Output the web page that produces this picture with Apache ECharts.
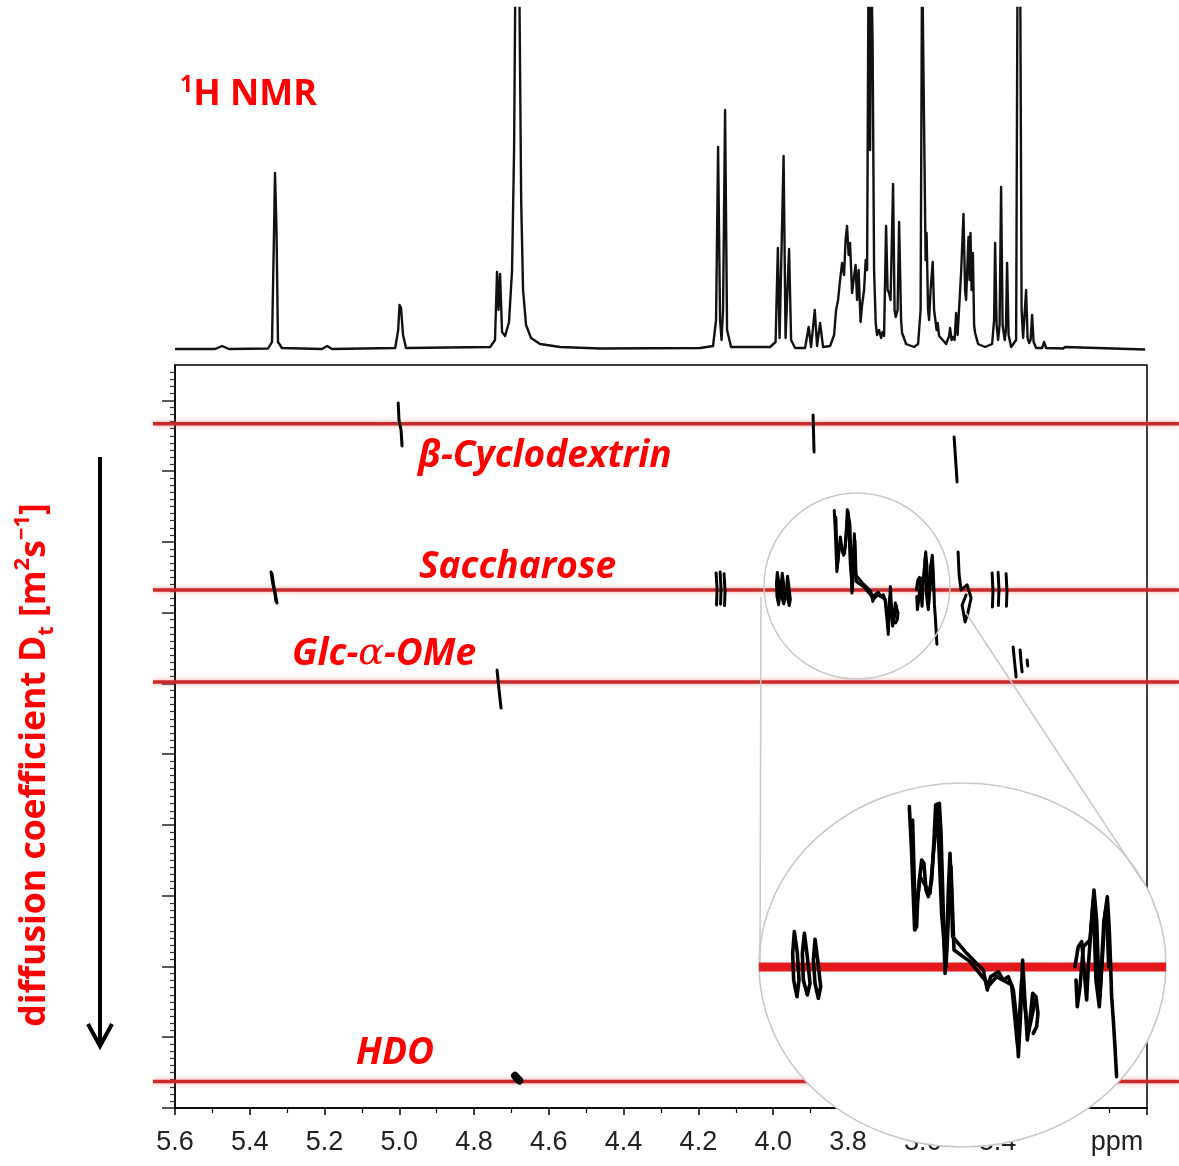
<!DOCTYPE html>
<html><head><meta charset="utf-8">
<script src="https://cdn.jsdelivr.net/npm/echarts@6/dist/echarts.min.js"></script>
<style>html,body{margin:0;padding:0;background:#fff}#c{width:1179px;height:1166px}</style>
</head><body><div id="c"></div>
<script>
// ---------- DATA ----------
// 1D 1H NMR spectrum: [ppm, intensity]
const nmrSpectrum = [
 [5.600,1],[5.493,1],[5.474,4],[5.456,1],[5.351,1.5],[5.3405,8],[5.335,120],[5.3325,177],[5.3285,120],[5.3245,8],[5.314,2],
 [5.207,1],[5.193,4],[5.180,1],[5.011,2],[5.003,20],[4.9994,45],[4.9954,42],[4.990,15],[4.982,2],
 [4.757,3],[4.744,10],[4.7386,78],[4.7346,40],[4.7305,76],[4.7252,18],[4.717,14],[4.7065,28],[4.6984,80],[4.693,200],
 [4.689,400],[4.6797,400],[4.674,150],[4.669,60],[4.661,25],[4.6476,12],[4.6235,6],[4.570,3],[4.463,1.5],
 [4.1955,2],[4.1607,4],[4.1527,30],[4.1473,203],[4.142,30],[4.138,10],[4.134,40],[4.1286,240],[4.1233,20],[4.1126,3],
 [4.0082,3],[3.9935,8],[3.9874,102],[3.9828,12],[3.9775,12],[3.9721,194],[3.9668,12],[3.9628,12],[3.9574,101],[3.952,10],
 [3.9413,2],[3.9146,2],[3.905,23],[3.8986,3],[3.8887,40],[3.8825,4],[3.8745,27],[3.8665,3],[3.8477,4],[3.837,15],
 [3.8317,40],[3.8263,50],[3.821,70],[3.8156,87],[3.8103,75],[3.8063,110],[3.8023,124],[3.7982,95],[3.7942,107],[3.7889,57],
 [3.7848,70],[3.7795,85],[3.7755,50],[3.7715,80],[3.7661,28],[3.7621,45],[3.7568,60],[3.7525,90],[3.7487,80],[3.7447,400],
 [3.7407,200],[3.738,400],[3.734,307],[3.730,80],[3.7257,27],[3.722,15],[3.7166,20],[3.7113,12],[3.7073,18],[3.7033,14],
 [3.6979,124],[3.6939,60],[3.6899,57],[3.6859,50],[3.6792,166],[3.6752,40],[3.672,33],[3.6671,40],[3.6631,128],[3.6578,30],
 [3.6551,17],[3.6444,6],[3.623,3],[3.6123,6],[3.6056,40],[3.6016,400],[3.5963,400],[3.5922,90],[3.5896,117],[3.5856,40],
 [3.5829,30],[3.5789,60],[3.5732,88],[3.5695,40],[3.5668,40],[3.5628,20],[3.5599,27],[3.5561,14],[3.5465,10],[3.5374,6],
 [3.5294,14],[3.5267,22],[3.5227,10],[3.5187,13],[3.5147,10],[3.5106,37],[3.5066,15],[3.5026,17],[3.4973,77],[3.4909,136],
 [3.4866,60],[3.4839,50],[3.4775,113],[3.4745,70],[3.4721,117],[3.4692,60],[3.4657,97],[3.4625,25],[3.4598,17],[3.4518,6],
 [3.4331,3],[3.4143,6],[3.409,30],[3.4063,107],[3.4023,25],[3.3983,10],[3.3943,25],[3.3903,163],[3.3862,25],[3.3806,10],
 [3.3774,20],[3.3742,87],[3.3702,15],[3.3635,3],[3.3501,10],[3.3461,400],[3.3394,400],[3.3354,40],[3.3314,12],[3.3274,14],
 [3.3234,60],[3.3194,12],[3.3154,7],[3.3113,10],[3.3073,35],[3.3033,8],[3.2966,2],[3.2806,2],[3.2752,8],[3.2699,2],
 [3.2244,1.5],[3.219,3],[3.2137,1.5],[3.005,0.5]
];

// compounds and their diffusion levels (arbitrary D-axis units, D increases downward)
const compounds = ['β-Cyclodextrin', 'Saccharose', 'Glc-α-OMe', 'HDO'];
const diffusionLevels = [9.67, 7.32, 6.02, 0.375];

// DOSY cross peaks as contour traces [ppm, D]
const betaCDPeaks = [
 [[5.003,9.963],[5.0008,9.723],[4.9954,9.582],[4.9927,9.356]],
 [[3.8932,9.794],[3.8906,9.271]],
 [[3.516,9.483],[3.508,8.847]]
];
const saccharosePeaks = [
 [[5.3432,7.575],[5.3378,7.392],[5.3325,7.292],[5.3271,7.137]],
 [[5.3405,7.55],[5.3351,7.35],[5.3298,7.16]],
 [[4.1527,7.56],[4.1500,7.34],[4.1514,7.11]],
 [[4.1420,7.575],[4.1393,7.33],[4.1407,7.12]],
 [[4.1313,7.55],[4.1286,7.30],[4.1300,7.10]],
 [[3.4143,7.56],[3.4120,7.30],[3.4135,7.08]],
 [[3.3983,7.57],[3.3960,7.33],[3.3975,7.10]],
 [[3.3769,7.55],[3.3746,7.30],[3.3760,7.09]],
 [[3.5053,7.857],[3.5026,7.532],[3.4973,7.321],[3.4812,7.392],[3.4705,7.208],[3.4786,7.01],[3.4866,6.868],[3.4946,7.109],[3.4839,7.25]]
];
// saccharose multiplet region 4.0–3.55 ppm (also shown magnified)
const saccharoseMultiplet = [
 [[3.9889,7.5677],[3.9849,7.4162],[3.9827,7.2296],[3.9854,7.113],[3.9898,7.2296],[3.9911,7.4162],[3.9889,7.5677]],
 [[3.9756,7.5561],[3.9717,7.3929],[3.9681,7.2063],[3.9717,7.1247],[3.977,7.2296],[3.9783,7.4162],[3.9756,7.5561]],
 [[3.9615,7.5141],[3.958,7.3695],[3.954,7.183],[3.9571,7.1013],[3.9615,7.2063],[3.9637,7.3695],[3.9615,7.5141]],
 [[3.8366,8.4422],[3.8339,8.1624],[3.8313,7.8126],[3.8295,7.5794],[3.8269,7.6027],[3.8255,7.7893],[3.8233,7.9292],[3.8202,8.0691],
  [3.8172,8.0458],[3.8145,7.8592],[3.8114,7.8126],[3.807,7.9292],[3.8039,8.209],[3.8017,8.4539],[3.7968,8.4656],[3.7946,8.2557],
  [3.7924,7.8592],[3.7907,7.5094],[3.7893,7.2762],[3.7871,7.4628],[3.7849,7.8592],[3.7827,8.1158],[3.7809,7.8592],[3.7792,7.5328],
  [3.7717,7.4861],[3.7606,7.4162],[3.7496,7.3579],[3.7386,7.2996],[3.7333,7.1596],[3.7289,7.2529],[3.7187,7.2879],[3.7121,7.2296],
  [3.7055,7.2529],[3.6988,7.1596],[3.6944,6.9498],[3.6922,6.6932],[3.6891,6.9964],[3.6865,7.3695],[3.6838,7.113],[3.6803,6.8098],
  [3.6768,6.9498],[3.6732,7.1363],[3.6688,7.113],[3.6662,6.9964],[3.6679,6.9031],[3.6724,6.8565]],
 [[3.8322,8.349],[3.8286,7.6494],[3.8225,7.9525],[3.8092,7.8359],[3.7995,8.4306],[3.7938,7.696],[3.788,7.3229],[3.7814,8.0225],
  [3.7774,7.4395],[3.7562,7.3579],[3.7364,7.2296],[3.7306,7.1946],[3.7209,7.2529],[3.701,7.1946],[3.6931,6.7632],[3.6878,7.2296],
  [3.679,6.8565],[3.6697,7.0897]],
 [[3.6172,7.3229],[3.6128,7.4628],[3.6083,7.4978],[3.6061,7.3695],[3.6039,7.2296],[3.6017,7.0897],[3.5995,7.3229],[3.5951,7.6494],
  [3.592,7.8592],[3.5885,7.6494],[3.5863,7.3229],[3.5841,7.113],[3.5805,7.4162],[3.5774,7.696],[3.5743,7.8126],[3.5717,7.5794],
  [3.5699,7.3229],[3.5686,7.113],[3.5664,6.9498],[3.5642,6.7632],[3.562,6.5533]],
 [[3.6158,7.2296],[3.6141,7.043],[3.6105,7.183],[3.6061,7.4628],[3.5973,7.5094],[3.5929,7.7893],[3.5894,7.2296],[3.5849,7.043],
  [3.5788,7.6494],[3.5752,7.7426],[3.5726,7.3229]]
];
const glcPeaks = [
 [[4.7386,6.19],[4.7332,5.907],[4.7279,5.652]],
 [[3.3581,6.515],[3.3541,6.30],[3.3501,6.091]],
 [[3.3394,6.473],[3.3368,6.30],[3.3341,6.162]],
 [[3.3207,6.331],[3.3190,6.247]]
];
const hdoPeaks = [
 [[4.6905,0.455],[4.6851,0.42],[4.6790,0.39]]
];

// axis ranges
const ppmRange = [3.0, 5.6];
const dRange = [0, 10.5];
const dMajorTicks = [0,1,2,3,4,5,6,7,8,9,10];
const insetPpmRange = [3.4966, 4.0357];
const insetDRange = [6.0612, 8.6078];

// ---------- CHART ----------
const chart = echarts.init(document.getElementById('c'), null, {renderer:'canvas'});
const RED = '#ff0000';
const LINE_RED = '#c92a2a';
const LABEL_FONT = '"Open Sans", "DejaVu Sans", sans-serif';
const SHADOW = {shadowColor:'rgba(0,0,0,0.3)', shadowBlur:3, shadowOffsetX:2, shadowOffsetY:2};

const series = [];
series.push({type:'line', xAxisIndex:0, yAxisIndex:0, data:nmrSpectrum, symbol:'none',
  lineStyle:{color:'#111', width:2.4, join:'round'}, clip:true, z:2, silent:true});
diffusionLevels.forEach((d,i) => series.push({type:'line', name:compounds[i], xAxisIndex:2, yAxisIndex:2,
  data:[[0,d],[1,d]], symbol:'none', silent:true, z:2,
  lineStyle:{color:LINE_RED, width:3.4, shadowBlur:5, shadowColor:'rgba(235,90,90,0.6)'}}));
[...betaCDPeaks, ...saccharosePeaks, ...saccharoseMultiplet, ...glcPeaks].forEach(tr => series.push({
  type:'line', xAxisIndex:1, yAxisIndex:1, data:tr, symbol:'none', silent:true, z:3,
  lineStyle:{color:'#000', width:3, cap:'round', join:'round'}}));
hdoPeaks.forEach(tr => series.push({type:'line', xAxisIndex:1, yAxisIndex:1, data:tr, symbol:'none', silent:true, z:3,
  lineStyle:{color:'#000', width:8, cap:'round', join:'round'}}));
// magnified inset
series.push({type:'line', xAxisIndex:3, yAxisIndex:3, symbol:'none', silent:true, z:20,
  data:[[insetPpmRange[1], diffusionLevels[1]],[insetPpmRange[0], diffusionLevels[1]]],
  lineStyle:{color:'#e3191c', width:9}});
saccharoseMultiplet.forEach(tr => series.push({type:'line', xAxisIndex:3, yAxisIndex:3, data:tr, symbol:'none', silent:true, z:21,
  lineStyle:{color:'#000', width:3.6, cap:'round', join:'round'}}));

const option = {
  animation:false,
  backgroundColor:'#fff',
  grid:[
    {left:175, width:972, top:8, height:342},
    {left:175, width:972, top:365, height:743, show:true, borderColor:'#000', borderWidth:1.5, backgroundColor:'transparent'},
    {left:153, right:0, top:365, height:743},
    {left:759, top:783, width:407, height:364}
  ],
  xAxis:[
    {gridIndex:0, type:'value', min:ppmRange[0], max:ppmRange[1], inverse:true, show:false},
    {gridIndex:1, type:'value', min:ppmRange[0], max:ppmRange[1], interval:0.2, inverse:true,
     axisLine:{show:true, onZero:false, lineStyle:{color:'#000', width:1.5}},
     axisTick:{show:true, inside:false, length:7, lineStyle:{color:'#000', width:1.5}},
     minorTick:{show:true, splitNumber:2, length:5, lineStyle:{color:'#000', width:1.2}},
     splitLine:{show:false},
     axisLabel:{show:true, showMinLabel:true, showMaxLabel:true, margin:21, fontFamily:'"Liberation Sans", Arial, sans-serif', fontSize:27, color:'#222',
       formatter: v => v < 3.3 ? '' : v.toFixed(1)}},
    {gridIndex:2, type:'value', min:0, max:1, show:false},
    {gridIndex:3, type:'value', min:insetPpmRange[0], max:insetPpmRange[1], inverse:true, show:false}
  ],
  yAxis:[
    {gridIndex:0, type:'value', min:0, max:342, show:false},
    {gridIndex:1, type:'value', min:dRange[0], max:dRange[1], interval:1,
     axisLine:{show:true, onZero:false, lineStyle:{color:'#000', width:1.5}},
     axisTick:{show:true, inside:false, length:13, customValues:dMajorTicks, lineStyle:{color:'#222', width:1.5}},
     minorTick:{show:true, splitNumber:10, length:5, lineStyle:{color:'#333', width:1.2}},
     axisLabel:{show:false}, splitLine:{show:false}},
    {gridIndex:2, type:'value', min:dRange[0], max:dRange[1], show:false},
    {gridIndex:3, type:'value', min:insetDRange[0], max:insetDRange[1], show:false}
  ],
  series: series,
  graphic:[
    {type:'circle', x:962.5, y:965, scaleY:182/203.5, z:10, silent:true,
     shape:{cx:0, cy:0, r:203.5}, style:{fill:'#fff', stroke:'#c8c8c8', lineWidth:1.6, strokeNoScale:true}},
    {type:'circle', z:10, silent:true, shape:{cx:857, cy:586, r:93}, style:{fill:'none', stroke:'#c8c8c8', lineWidth:1.5}},
    {type:'line', z:11, silent:true, shape:{x1:761, y1:597, x2:760, y2:962}, style:{stroke:'#c8c8c8', lineWidth:1.5}},
    {type:'line', z:11, silent:true, shape:{x1:966, y1:613, x2:1143, y2:882}, style:{stroke:'#c8c8c8', lineWidth:1.5}},
    {type:'text', z:30, x:1117, y:1143, silent:true,
     style:{text:'ppm', font:'27px "Liberation Sans", Arial, sans-serif', fill:'#222', align:'center', verticalAlign:'middle'}},
    {type:'text', z:30, x:180, y:95, silent:true,
     style:Object.assign({text:'{s|1}{n|H NMR}', align:'left', verticalAlign:'middle', fill:RED,
       rich:{s:{fontFamily:LABEL_FONT, fontWeight:'bold', fontSize:23, fill:RED, verticalAlign:'top'},
             n:{fontFamily:LABEL_FONT, fontWeight:'bold', fontSize:36, fill:RED, lineHeight:42}}}, SHADOW)},
    {type:'text', z:30, x:418, y:456, silent:true,
     style:Object.assign({text:compounds[0], font:'italic bold 37px ' + LABEL_FONT, fill:RED, align:'left', verticalAlign:'middle'}, SHADOW)},
    {type:'text', z:30, x:419, y:567, silent:true,
     style:Object.assign({text:compounds[1], font:'italic bold 37px ' + LABEL_FONT, fill:RED, align:'left', verticalAlign:'middle'}, SHADOW)},
    {type:'text', z:30, x:292, y:654, silent:true,
     style:Object.assign({text:'{n|Glc-}{g|α}{n|-OMe}', align:'left', verticalAlign:'middle', fill:RED,
       rich:{n:{fontFamily:LABEL_FONT, fontWeight:'bold', fontStyle:'italic', fontSize:37, fill:RED},
             g:{fontFamily:'"DejaVu Serif", serif', fontStyle:'italic', fontSize:38, fill:RED}}}, SHADOW)},
    {type:'text', z:30, x:356, y:1053, silent:true,
     style:Object.assign({text:compounds[3], font:'italic bold 37px ' + LABEL_FONT, fill:RED, align:'left', verticalAlign:'middle'}, SHADOW)},
    {type:'text', z:30, x:35, y:765, rotation:Math.PI/2, silent:true,
     style:{text:'{n|diffusion coefficient D}{b|t}{n| [m}{s|2}{n|s}{s|−1}{n|]}', align:'center', verticalAlign:'middle', fill:RED,
       shadowColor:'rgba(0,0,0,0.3)', shadowBlur:3, shadowOffsetX:2, shadowOffsetY:-2,
       rich:{n:{fontFamily:LABEL_FONT, fontWeight:'bold', fontSize:35.5, fill:RED, lineHeight:46},
             s:{fontFamily:LABEL_FONT, fontWeight:'bold', fontSize:22, fill:RED, verticalAlign:'top'},
             b:{fontFamily:LABEL_FONT, fontWeight:'bold', fontSize:22, fill:RED, verticalAlign:'bottom'}}}},
    {type:'line', z:30, silent:true, shape:{x1:100, y1:457, x2:100, y2:1044}, style:{stroke:'#000', lineWidth:4}},
    {type:'polyline', z:30, silent:true, shape:{points:[[88,1024],[100,1046],[112,1024]]}, style:{stroke:'#000', lineWidth:4, fill:'none'}}
  ]
};
chart.setOption(option);
</script></body></html>
